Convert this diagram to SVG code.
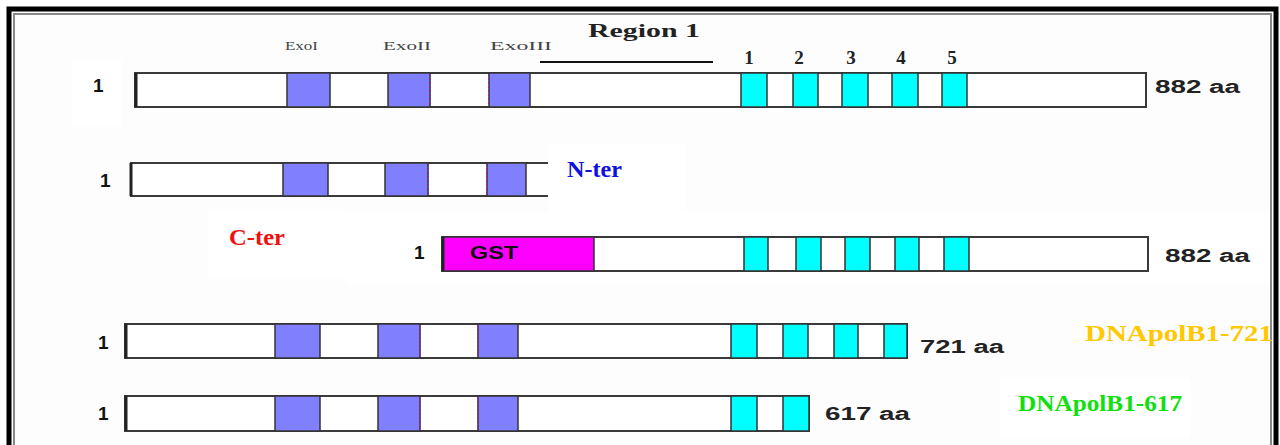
<svg xmlns="http://www.w3.org/2000/svg" width="1280" height="445" viewBox="0 0 1280 445">
  <style>
    .bar { fill: #ffffff; stroke: #3a3a3a; stroke-width: 2; }
    .edge { stroke: #222; stroke-width: 3; }
    .exo { fill: #8080ff; stroke: #333; stroke-width: 1.5; }
    .pol { fill: #00ffff; stroke: #333; stroke-width: 1.5; }
    .gst { fill: #ff00ff; stroke: #333; stroke-width: 1.5; }
    .dot { stroke: #8a2a8a; stroke-width: 1.5; stroke-dasharray: 2 2; }
    .num { font-family: "Liberation Sans", Arial, sans-serif; font-weight: bold; font-size: 19px; fill: #111; }
    .aa { font-family: "Liberation Sans", Arial, sans-serif; font-weight: bold; font-size: 18px; fill: #222; }
    .motif { font-family: "Liberation Serif", "Times New Roman", serif; font-weight: bold; font-size: 19px; fill: #222; text-anchor: middle; }
    .exolbl { font-family: "Liberation Serif", "Times New Roman", serif; font-size: 13px; fill: #444; }
    .big { font-family: "Liberation Serif", "Times New Roman", serif; font-weight: bold; font-size: 23px; }
  </style>

  <!-- page background and frame -->
  <rect x="0" y="0" width="1280" height="445" fill="#ffffff"/>
  <rect x="13" y="13" width="1258" height="440" fill="#fdfdfd"/>
  <!-- lighter patches -->
  <rect x="72" y="60" width="50" height="66" fill="#ffffff"/>
  <rect x="548" y="143" width="137" height="68" fill="#ffffff"/>
  <rect x="208" y="210" width="138" height="68" fill="#ffffff"/>
  <rect x="346" y="212" width="925" height="72" fill="#ffffff"/>
  <rect x="1000" y="378" width="190" height="60" fill="#ffffff"/>
  <path d="M9 445 V9 H1276 V445" fill="none" stroke="#000" stroke-width="5"/>
  <path d="M14 445 V14 H1271 V445" fill="none" stroke="#888" stroke-width="2"/>

  <!-- full-length protein, 882 aa -->
  <g id="full">
    <text class="exolbl" x="285" y="50" textLength="33" lengthAdjust="spacingAndGlyphs">ExoI</text>
    <text class="exolbl" x="383" y="50" textLength="48" lengthAdjust="spacingAndGlyphs">ExoII</text>
    <text class="exolbl" x="490" y="50" textLength="62" lengthAdjust="spacingAndGlyphs">ExoIII</text>
    <text class="motif" x="644" y="37" textLength="112" lengthAdjust="spacingAndGlyphs">Region 1</text>
    <line x1="540" y1="62" x2="713" y2="62" stroke="#111" stroke-width="2"/>
    <text class="motif" x="749" y="64">1</text>
    <text class="motif" x="799" y="64">2</text>
    <text class="motif" x="851" y="64">3</text>
    <text class="motif" x="901" y="64">4</text>
    <text class="motif" x="952" y="64">5</text>
    <text class="num" x="93" y="92">1</text>
    <rect class="bar" x="135" y="73" width="1011" height="34"/>
    <line class="edge" x1="136" y1="73" x2="136" y2="107" stroke="#666"/>
    <rect class="exo" x="287" y="73" width="43" height="34"/>
    <rect class="exo" x="388" y="73" width="42" height="34"/>
    <line class="dot" x1="430" y1="74" x2="430" y2="106"/>
    <rect class="exo" x="489" y="73" width="41" height="34"/>
    <line class="dot" x1="489" y1="74" x2="489" y2="106"/>
    <rect class="pol" x="741" y="73" width="26" height="34"/>
    <rect class="pol" x="793" y="73" width="25" height="34"/>
    <rect class="pol" x="842" y="73" width="26" height="34"/>
    <rect class="pol" x="892" y="73" width="26" height="34"/>
    <rect class="pol" x="942" y="73" width="25" height="34"/>
    <text class="aa" x="1155" y="93" textLength="85" lengthAdjust="spacingAndGlyphs">882 aa</text>
  </g>

  <!-- N-terminal fragment -->
  <g id="nter">
    <text class="num" x="100" y="187">1</text>
    <path d="M548 163 H131 V196 H548" fill="#fff" stroke="#3a3a3a" stroke-width="2"/>
    <line class="edge" x1="131" y1="163" x2="131" y2="196"/>
    <rect class="exo" x="283" y="163" width="45" height="33"/>
    <rect class="exo" x="385" y="163" width="43" height="33"/>
    <line class="dot" x1="428" y1="164" x2="428" y2="195"/>
    <rect class="exo" x="487" y="163" width="39" height="33"/>
    <line class="dot" x1="487" y1="164" x2="487" y2="195"/>
    <text class="big" x="567" y="177" fill="#1010e0" textLength="55" lengthAdjust="spacingAndGlyphs">N-ter</text>
  </g>

  <!-- C-terminal GST fusion -->
  <g id="cter">
    <text class="big" x="229" y="245" fill="#f01010" textLength="56" lengthAdjust="spacingAndGlyphs">C-ter</text>
    <text class="num" x="414" y="259">1</text>
    <rect class="bar" x="442" y="237" width="706" height="34"/>
    <rect class="gst" x="443" y="237" width="151" height="34"/>
    <line class="edge" x1="443" y1="237" x2="443" y2="271"/>
    <text class="num" x="470" y="259" textLength="48" lengthAdjust="spacingAndGlyphs">GST</text>
    <rect class="pol" x="744" y="237" width="24" height="34"/>
    <rect class="pol" x="796" y="237" width="25" height="34"/>
    <rect class="pol" x="845" y="237" width="25" height="34"/>
    <rect class="pol" x="895" y="237" width="24" height="34"/>
    <rect class="pol" x="944" y="237" width="25" height="34"/>
    <text class="aa" x="1165" y="262" textLength="85" lengthAdjust="spacingAndGlyphs">882 aa</text>
  </g>

  <!-- truncated form, 721 aa -->
  <g id="pol721">
    <text class="num" x="98" y="349">1</text>
    <rect class="bar" x="125" y="324" width="782" height="34"/>
    <line class="edge" x1="126" y1="324" x2="126" y2="358"/>
    <rect class="exo" x="275" y="324" width="45" height="34"/>
    <rect class="exo" x="378" y="324" width="42" height="34"/>
    <line class="dot" x1="420" y1="325" x2="420" y2="357"/>
    <rect class="exo" x="478" y="324" width="40" height="34"/>
    <line class="dot" x1="478" y1="325" x2="478" y2="357"/>
    <rect class="pol" x="731" y="324" width="26" height="34"/>
    <rect class="pol" x="783" y="324" width="25" height="34"/>
    <rect class="pol" x="834" y="324" width="24" height="34"/>
    <rect class="pol" x="884" y="324" width="23" height="34"/>
    <text class="aa" x="920" y="353" textLength="84" lengthAdjust="spacingAndGlyphs">721 aa</text>
    <text class="big" x="1085" y="341" fill="#ffc800" textLength="188" lengthAdjust="spacingAndGlyphs">DNApolB1-721</text>
  </g>

  <!-- truncated form, 617 aa -->
  <g id="pol617">
    <text class="num" x="98" y="420">1</text>
    <rect class="bar" x="125" y="396" width="684" height="35"/>
    <line class="edge" x1="126" y1="396" x2="126" y2="431"/>
    <rect class="exo" x="275" y="396" width="45" height="35"/>
    <rect class="exo" x="378" y="396" width="42" height="35"/>
    <line class="dot" x1="420" y1="397" x2="420" y2="430"/>
    <rect class="exo" x="478" y="396" width="40" height="35"/>
    <line class="dot" x1="478" y1="397" x2="478" y2="430"/>
    <rect class="pol" x="731" y="396" width="26" height="35"/>
    <rect class="pol" x="783" y="396" width="26" height="35"/>
    <text class="aa" x="825" y="420" textLength="85" lengthAdjust="spacingAndGlyphs">617 aa</text>
    <text class="big" x="1018" y="411" fill="#10e010" textLength="164" lengthAdjust="spacingAndGlyphs">DNApolB1-617</text>
  </g>
</svg>
